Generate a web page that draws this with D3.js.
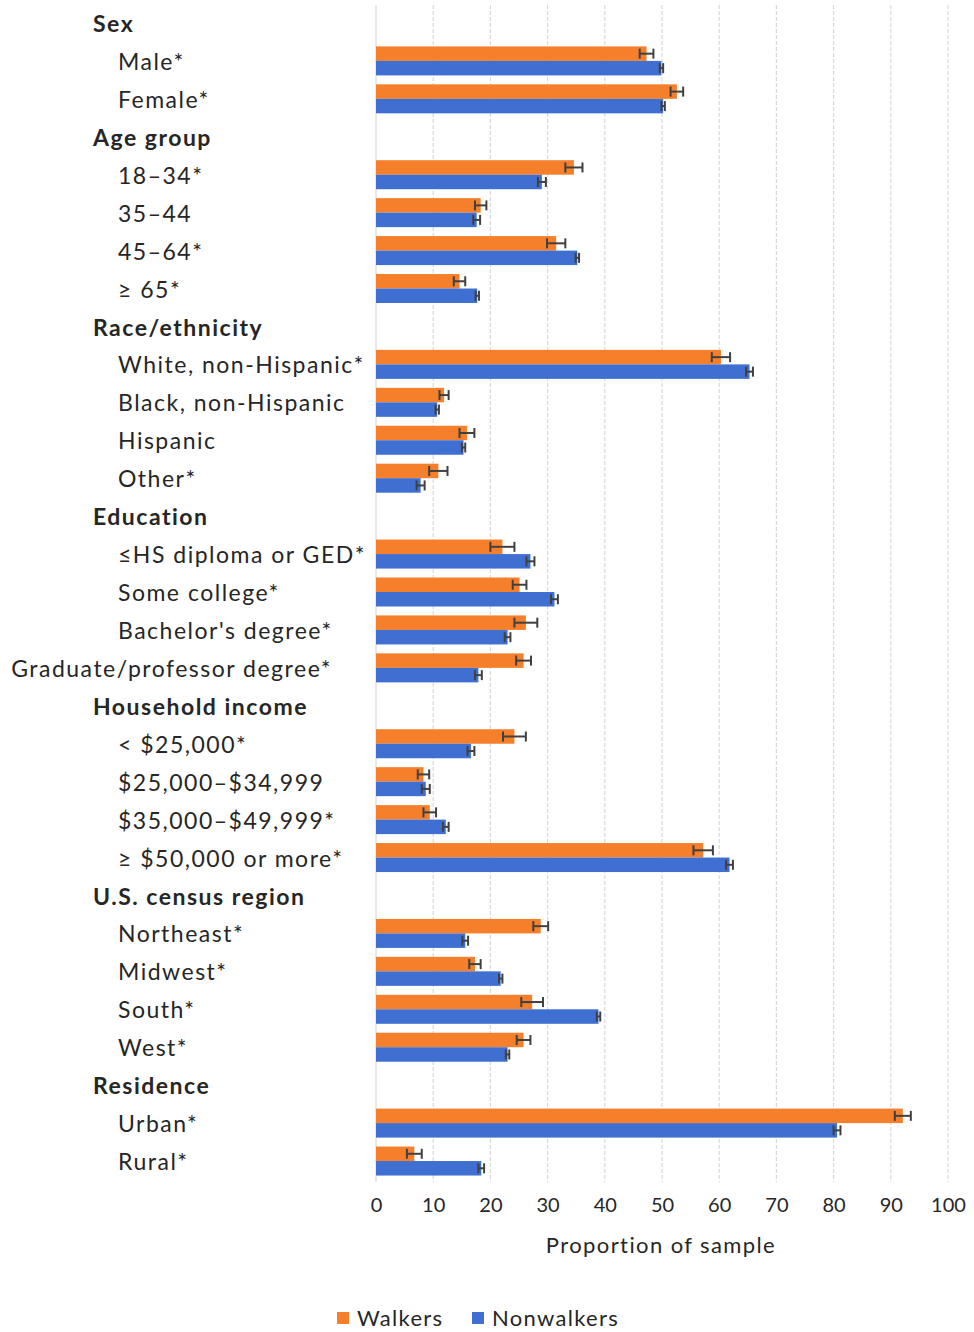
<!DOCTYPE html>
<html>
<head>
<meta charset="utf-8">
<script src="https://cdn.jsdelivr.net/npm/d3@7"></script>
<style>
    body { margin: 0; background: #fff; }
    text { font-family: Lato, "Open Sans", sans-serif; fill: #262626; }
    .header { font-weight: bold; }
</style>
</head>
<body>
<div id="container"><svg></svg></div>
<script>
let width = 974;
let height = 1332;

// rows of the chart, group headers have null values
let labels = [
    'Sex', 'Male*', 'Female*',
    'Age group', '18\u201334*', '35\u201344', '45\u201364*', '\u2265 65*',
    'Race/ethnicity', 'White, non-Hispanic*', 'Black, non-Hispanic', 'Hispanic', 'Other*',
    'Education', '\u2264HS diploma or GED*', 'Some college*', "Bachelor's degree*", 'Graduate/professor degree*',
    'Household income', '< $25,000*', '$25,000\u2013$34,999', '$35,000\u2013$49,999*', '\u2265 $50,000 or more*',
    'U.S. census region', 'Northeast*', 'Midwest*', 'South*', 'West*',
    'Residence', 'Urban*', 'Rural*'
];
let walkers = [
    null, 47.3, 52.6,
    null, 34.6, 18.3, 31.5, 14.6,
    null, 60.3, 11.9, 15.9, 10.9,
    null, 22.1, 25.1, 26.2, 25.8,
    null, 24.2, 8.3, 9.4, 57.2,
    null, 28.8, 17.3, 27.3, 25.8,
    null, 92.1, 6.7
];
let walkersErr = [
    null, 1.2, 1.1,
    null, 1.5, 1.0, 1.6, 1.0,
    null, 1.6, 0.8, 1.3, 1.6,
    null, 2.1, 1.2, 2.0, 1.3,
    null, 2.0, 1.0, 1.1, 1.7,
    null, 1.3, 1.0, 1.9, 1.2,
    null, 1.4, 1.3
];
let nonwalkers = [
    null, 49.9, 50.2,
    null, 29.0, 17.6, 35.2, 17.7,
    null, 65.3, 10.7, 15.3, 7.8,
    null, 27.0, 31.2, 23.0, 17.9,
    null, 16.6, 8.7, 12.2, 61.8,
    null, 15.6, 21.8, 38.9, 23.0,
    null, 80.6, 18.4
];
let nonwalkersErr = [
    null, 0.3, 0.3,
    null, 0.7, 0.6, 0.3, 0.3,
    null, 0.6, 0.3, 0.3, 0.7,
    null, 0.7, 0.6, 0.5, 0.6,
    null, 0.6, 0.7, 0.5, 0.6,
    null, 0.5, 0.3, 0.3, 0.3,
    null, 0.6, 0.5
];
let series = ['Walkers', 'Nonwalkers'];
let colors = ['#F57F2A', '#3F6FD1'];
let ticks = [0, 10, 20, 30, 40, 50, 60, 70, 80, 90, 100];

function draw_main() {
    let svg = d3.select('#container').select('svg')
        .attr('width', width)
        .attr('height', height);

    let x = d3.scaleLinear().domain([0, 100]).range([376, 948]);
    let y = d3.scaleBand()
        .domain(d3.range(labels.length))
        .range([4, 1180]);
    let bh = 14.5;

    // grid
    svg.append('g')
        .selectAll('line')
        .data(ticks)
        .enter()
        .append('line')
        .attr('x1', d => x(d)).attr('x2', d => x(d))
        .attr('y1', 5).attr('y2', 1182)
        .attr('stroke', '#d9d9d9')
        .attr('stroke-width', 1.2)
        .attr('stroke-dasharray', d => d == 0 ? null : '4,2');

    // x axis
    let axis_x = d3.axisBottom(x).tickValues(ticks).tickSize(0).tickPadding(0);
    let gx = svg.append('g')
        .attr('transform', 'translate(0, 1200)')
        .call(axis_x);
    gx.select('.domain').remove();
    gx.selectAll('text')
        .attr('font-family', 'Lato, sans-serif')
        .attr('font-size', 20)
        .attr('fill', '#404040')
        .attr('dy', '0.6em');

    svg.append('text')
        .attr('x', 661).attr('y', 1253)
        .attr('text-anchor', 'middle')
        .attr('font-size', 22)
        .attr('letter-spacing', 1.4)
        .attr('fill', '#404040')
        .text('Proportion of sample');

    // row labels
    let lab = svg.append('g');
    labels.forEach((l, i) => {
        let head = walkers[i] === null;
        let t = lab.append('text')
            .attr('class', head ? 'header' : 'item')
            .attr('x', head ? 93 : 118)
            .attr('y', y(i) + y.bandwidth() / 2 + 1)
            .attr('dy', '0.35em')
            .attr('font-size', 23)
            .attr('letter-spacing', 1.5)
            .text(l);
        // the one label too long for the indent is pulled left
        if (!head && 118 + t.node().getComputedTextLength() > 400) {
            t.attr('x', 332).attr('text-anchor', 'end');
        }
    });

    // bars + error bars
    let vals = [walkers, nonwalkers];
    let errs = [walkersErr, nonwalkersErr];
    vals.forEach((v, s) => {
        let rows = d3.range(labels.length).filter(i => v[i] !== null);
        let g = svg.append('g');
        g.selectAll('rect')
            .data(rows)
            .enter()
            .append('rect')
            .attr('x', x(0))
            .attr('y', i => y(i) + y.bandwidth() / 2 - bh + s * bh)
            .attr('width', i => x(v[i]) - x(0))
            .attr('height', bh)
            .attr('fill', colors[s]);

        let eb = g.selectAll('g.err')
            .data(rows)
            .enter()
            .append('g')
            .attr('class', 'err')
            .attr('stroke', '#404040')
            .attr('stroke-width', 2);
        let cy = i => y(i) + y.bandwidth() / 2 - bh / 2 + s * bh;
        eb.append('line')
            .attr('x1', i => x(v[i] - errs[s][i])).attr('x2', i => x(v[i] + errs[s][i]))
            .attr('y1', cy).attr('y2', cy);
        [-1, 1].forEach(k => {
            eb.append('line')
                .attr('x1', i => x(v[i] + k * errs[s][i])).attr('x2', i => x(v[i] + k * errs[s][i]))
                .attr('y1', i => cy(i) - 5).attr('y2', i => cy(i) + 5);
        });
    });

    // legend
    let lx = [337, 472];
    let lg = svg.append('g');
    series.forEach((s, i) => {
        lg.append('rect')
            .attr('x', lx[i]).attr('y', 1312)
            .attr('width', 12).attr('height', 12)
            .attr('fill', colors[i]);
        lg.append('text')
            .attr('x', lx[i] + 20).attr('y', 1318)
            .attr('dy', '0.35em')
            .attr('font-size', 22)
            .attr('letter-spacing', 1.3)
            .attr('fill', '#404040')
            .text(s);
    });
}

draw_main();
</script>
</body>
</html>
